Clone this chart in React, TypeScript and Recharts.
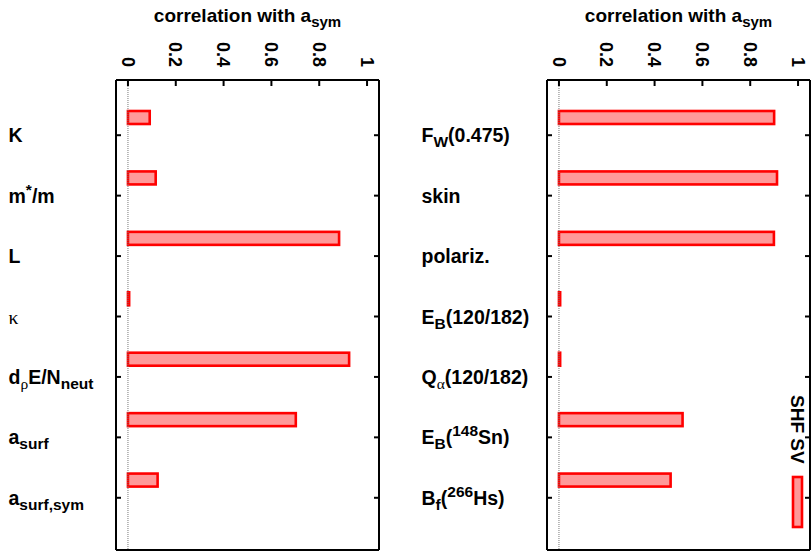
import React from "react";
import {
  BarChart,
  Bar,
  XAxis,
  YAxis,
  ReferenceLine,
  Legend,
} from "recharts";

// labels use a small markup: _x / _{..} subscript, ^x / ^{..} superscript
const leftLabels = ["K", "m^*/m", "L", "κ", "d_ρE/N_{neut}", "a_{surf}", "a_{surf,sym}"];
const leftValues = [0.091, 0.116, 0.883, 0.005, 0.925, 0.702, 0.124];

const rightLabels = [
  "F_W(0.475)",
  "skin",
  "polariz.",
  "E_B(120/182)",
  "Q_α(120/182)",
  "E_B(^{148}Sn)",
  "B_f(^{266}Hs)",
];
const rightValues = [0.9, 0.912, 0.899, 0.005, 0.005, 0.517, 0.467];

const xTicks = [0, 0.2, 0.4, 0.6, 0.8, 1];
const xDomain = [-0.05, 1.05];
const seriesName = "SHF SV";

const FONT = "'Liberation Sans', Arial, Helvetica, sans-serif";
const GREEK_FONT = "'Liberation Serif', 'DejaVu Serif', serif";
const BAR_FILL = "#ff9999";
const BAR_STROKE = "#ff0000";

type Part = { t: string; k: "n" | "sub" | "sup" };

function parseLabel(s: string): Part[] {
  const out: Part[] = [];
  let buf = "";
  let i = 0;
  while (i < s.length) {
    const c = s[i];
    if (c === "_" || c === "^") {
      if (buf) {
        out.push({ t: buf, k: "n" });
        buf = "";
      }
      let t = "";
      if (s[i + 1] === "{") {
        const j = s.indexOf("}", i + 2);
        t = s.slice(i + 2, j);
        i = j + 1;
      } else {
        t = s[i + 1];
        i += 2;
      }
      out.push({ t, k: c === "_" ? "sub" : "sup" });
    } else {
      buf += c;
      i++;
    }
  }
  if (buf) out.push({ t: buf, k: "n" });
  return out;
}

function RichText({ x, y, text, size = 19.5 }: { x: number; y: number; text: string; size?: number }) {
  let shift = 0;
  const parts = parseLabel(text);
  return (
    <text x={x} y={y} fontFamily={FONT} fontWeight="bold" fontSize={size} fill="#000">
      {parts.map((p, i) => {
        const target = p.k === "sub" ? 5 : p.k === "sup" ? -8 : 0;
        const dy = target - shift;
        shift = target;
        const greek = /[\u0370-\u03ff]/.test(p.t);
        return (
          <tspan
            key={i}
            dy={dy}
            fontSize={p.k === "n" ? size : 15.5}
            fontWeight={greek ? "normal" : "bold"}
            fontFamily={greek ? GREEK_FONT : FONT}
          >
            {p.t}
          </tspan>
        );
      })}
    </text>
  );
}

// value ticks along the top, rotated a quarter turn
const TopTick = (props: any) => {
  const { x, payload } = props;
  return (
    <text
      transform={`translate(${x},67) rotate(90)`}
      textAnchor="end"
      dy="0.35em"
      fontFamily={FONT}
      fontWeight="bold"
      fontSize={18}
      fill="#000"
    >
      {String(payload.value)}
    </text>
  );
};

const NoTick = () => <g />;

const makeCategoryTick = (labelX: number) => (props: any) => {
  const { y, payload } = props;
  return <RichText x={labelX} y={y + 7} text={payload.value} />;
};

const AxisTitle = (props: any) => {
  const vb = props.viewBox || { x: 0, width: 0 };
  const cx = vb.x + vb.width / 2;
  return (
    <text x={cx} y={22} textAnchor="middle" fontFamily={FONT} fontWeight="bold" fontSize={19} fill="#000">
      correlation with a
      <tspan dy={5} fontSize={15}>
        sym
      </tspan>
    </text>
  );
};

// bars sit a little above their category tick
const OffsetBar = (props: any) => {
  const { x, y, width, height } = props;
  if (width == null || height == null) return <g />;
  return (
    <rect
      x={x}
      y={y - 18}
      width={Math.max(width, 0)}
      height={height}
      fill={BAR_FILL}
      stroke={BAR_STROKE}
      strokeWidth={2.6}
    />
  );
};

const SvLegend = (props: any) => {
  const item = props.payload && props.payload[0];
  const label = item ? item.value : seriesName;
  return (
    <svg width={24} height={150} style={{ display: "block" }}>
      <text
        transform="translate(4,3) rotate(90)"
        fontFamily={FONT}
        fontWeight="bold"
        fontSize={19}
        fill="#000"
      >
        {label}
      </text>
      <rect x={6} y={85} width={9} height={50} fill={BAR_FILL} stroke={BAR_STROKE} strokeWidth={2.6} />
    </svg>
  );
};

interface PanelProps {
  labels: string[];
  values: number[];
  width: number;
  yAxisWidth: number;
  labelX: number;
  marginRight: number;
  withLegend?: boolean;
}

function Panel({ labels, values, width, yAxisWidth, labelX, marginRight, withLegend }: PanelProps) {
  const data = labels.map((name, i) => ({ name, value: values[i] }));
  const axisLine = { stroke: "#000", strokeWidth: 2 };
  const tickLine = { stroke: "#000", strokeWidth: 2 };
  const pad = { top: 25, bottom: 22 };
  return (
    <BarChart
      width={width}
      height={552}
      data={data}
      layout="vertical"
      margin={{ top: 50, right: marginRight, bottom: 1, left: 0 }}
      barSize={13}
    >
      <XAxis
        type="number"
        orientation="top"
        domain={xDomain}
        ticks={xTicks}
        height={30}
        axisLine={axisLine}
        tickLine={tickLine}
        tickSize={-6}
        tick={<TopTick />}
        label={<AxisTitle />}
      />
      <XAxis
        xAxisId="b"
        type="number"
        orientation="bottom"
        domain={xDomain}
        ticks={xTicks}
        height={1}
        axisLine={axisLine}
        tickLine={tickLine}
        tickSize={-6}
        tick={<NoTick />}
      />
      <YAxis
        type="category"
        dataKey="name"
        width={yAxisWidth}
        padding={pad}
        axisLine={axisLine}
        tickLine={tickLine}
        tickSize={-5}
        tick={makeCategoryTick(labelX)}
        interval={0}
      />
      <YAxis
        yAxisId="r"
        type="category"
        dataKey="name"
        orientation="right"
        width={1}
        padding={pad}
        axisLine={axisLine}
        tickLine={tickLine}
        tickSize={-5}
        tick={<NoTick />}
        interval={0}
      />
      <ReferenceLine x={0} stroke="#777" strokeDasharray="1 1" strokeWidth={1} />
      <Bar
        dataKey="value"
        name={seriesName}
        fill={BAR_FILL}
        stroke={BAR_STROKE}
        shape={<OffsetBar />}
        isAnimationActive={false}
      />
      {withLegend && (
        <Legend
          layout="horizontal"
          align="center"
          verticalAlign="middle"
          content={<SvLegend />}
          wrapperStyle={{ position: "absolute", left: 377, top: 392, width: 24, height: 150 }}
        />
      )}
    </BarChart>
  );
}

export default function App() {
  return (
    <div style={{ position: "absolute", left: 0, top: 0, width: 811, height: 552, background: "#fff" }}>
      <div style={{ position: "absolute", left: 0, top: 0 }}>
        <Panel
          labels={leftLabels}
          values={leftValues}
          width={400}
          yAxisWidth={116}
          labelX={8.5}
          marginRight={20}
        />
      </div>
      <div style={{ position: "absolute", left: 410, top: 0 }}>
        <Panel
          labels={rightLabels}
          values={rightValues}
          width={401}
          yAxisWidth={137}
          labelX={11.5}
          marginRight={0}
          withLegend
        />
      </div>
    </div>
  );
}
